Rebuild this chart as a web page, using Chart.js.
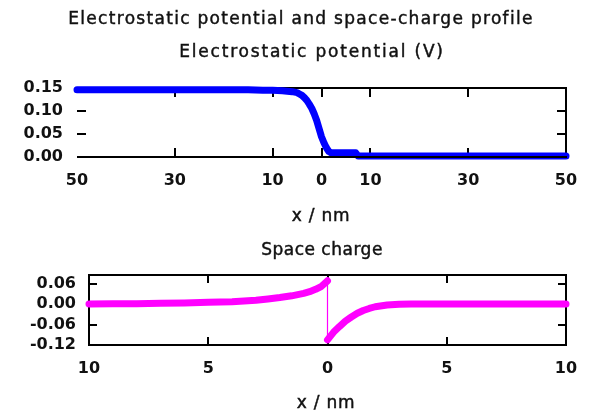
<!DOCTYPE html>
<html>
<head>
<meta charset="utf-8">
<script src="https://cdn.jsdelivr.net/npm/chart.js@4/dist/chart.umd.min.js"></script>
<style>
  html, body { margin: 0; padding: 0; background: #fff; }
  #wrap { position: relative; width: 595px; height: 413px; overflow: hidden;
          font-family: "DejaVu Sans", sans-serif; color: #000; }
  #wrap canvas { position: absolute; left: 0; }
  .lbl { position: absolute; white-space: nowrap; transform: translate(-50%, -50%);
         font-size: 17px; line-height: 1; font-weight: normal; color: #111;
         -webkit-text-stroke: 0.45px #111; }
</style>
</head>
<body>
<div id="wrap">
  <canvas id="potChart" width="595" height="230" style="top:0"></canvas>
  <canvas id="chgChart" width="595" height="183" style="top:230px"></canvas>
  <div class="lbl" style="left:301px; top:18px; letter-spacing:1.3px">Electrostatic potential and space-charge profile</div>
  <div class="lbl" style="left:312px; top:51px; letter-spacing:1.8px">Electrostatic potential (V)</div>
  <div class="lbl" style="left:321px; top:215px; letter-spacing:0.8px">x / nm</div>
  <div class="lbl" style="left:322px; top:249px; letter-spacing:0.5px">Space charge</div>
  <div class="lbl" style="left:326px; top:402px; letter-spacing:0.8px">x / nm</div>
</div>
<script>
// Electrostatic potential (V) across the junction, x in nm
const potX = [-50, -45, -40, -35, -30, -25, -20, -15, -12, -10, -8, -7, -6, -5, -4.5, -4,
              -3.5, -3, -2.5, -2, -1.5, -1, -0.5, 0, 0.5, 1, 1.5, 2, 3, 4, 5, 6, 7,
              7.5, 10, 15, 20, 25, 30, 35, 40, 45, 50];
const potV = [0.146, 0.146, 0.146, 0.146, 0.146, 0.146, 0.146, 0.146, 0.145, 0.145, 0.144,
              0.143, 0.142, 0.140, 0.137, 0.134, 0.129, 0.123, 0.115, 0.106, 0.094, 0.080,
              0.062, 0.044, 0.031, 0.020, 0.012, 0.009, 0.009, 0.009, 0.009, 0.009, 0.009,
              0.002, 0.002, 0.002, 0.002, 0.002, 0.002, 0.002, 0.002, 0.002, 0.002];

// Space charge on each side of the interface at x = 0
const chgLeftX = [-10, -9, -8, -7, -6, -5, -4, -3.5, -3, -2.5, -2, -1.5, -1, -0.75, -0.5, -0.25, 0];
const chgLeftV = [0.000, 0.001, 0.001, 0.002, 0.003, 0.005, 0.007, 0.009, 0.011, 0.015, 0.019,
                  0.024, 0.031, 0.036, 0.043, 0.052, 0.068];
const chgRightX = [0, 0.25, 0.5, 0.75, 1, 1.25, 1.5, 1.75, 2, 2.5, 3, 3.5, 4, 5, 6, 7, 8, 9, 10];
const chgRightV = [-0.105, -0.083, -0.066, -0.050, -0.038, -0.027, -0.019, -0.013, -0.008,
                   -0.003, -0.001, 0.000, 0.000, 0.000, 0.000, 0.000, 0.000, 0.000, 0.000];

// Tick positions
const potTicksX = [-50, -30, -10, 0, 10, 30, 50];
const potTicksY = [0, 0.05, 0.10, 0.15];
const chgTicksX = [-10, -5, 0, 5, 10];
const chgTicksY = [-0.12, -0.06, 0, 0.06];

const BLUE = '#0000ff';
const PINK = '#ff00ff';
const tickFont = { family: '"DejaVu Sans", sans-serif', size: 16, weight: 'bold' };

const toPts = (xs, ys) => xs.map((x, i) => ({ x: x, y: ys[i] }));

// Frame with inward-pointing tick marks on all four sides.
function framePlugin(cfg) {
  function drawTicks(chart) {
    const { ctx, chartArea: a, scales } = chart;
    const xs = scales.x, ys = scales.y;
    ctx.save();
    ctx.strokeStyle = '#000';
    ctx.lineWidth = 2;
    ctx.beginPath();
    xs.ticks.forEach(t => {
      const px = Math.round(xs.getPixelForValue(t.value));
      if (px <= a.left + 1 || px >= a.right - 1) return;
      ctx.moveTo(px, a.bottom); ctx.lineTo(px, a.bottom - cfg.tick);
      ctx.moveTo(px, a.top); ctx.lineTo(px, a.top + cfg.tick);
    });
    ys.ticks.forEach(t => {
      const py = Math.round(ys.getPixelForValue(t.value));
      if (py <= a.top + 1 || py >= a.bottom - 1) return;
      ctx.moveTo(a.left, py); ctx.lineTo(a.left + cfg.tick, py);
      ctx.moveTo(a.right, py); ctx.lineTo(a.right - cfg.tick, py);
    });
    ctx.stroke();
    ctx.restore();
  }
  function line(ctx, x1, y1, x2, y2) {
    ctx.save();
    ctx.strokeStyle = '#000';
    ctx.lineWidth = 2;
    ctx.beginPath(); ctx.moveTo(x1, y1); ctx.lineTo(x2, y2); ctx.stroke();
    ctx.restore();
  }
  return {
    id: 'frame',
    beforeDatasetsDraw(chart) {
      const { ctx, chartArea: a } = chart;
      drawTicks(chart);
      line(ctx, a.left, a.top, a.right + 1, a.top);
      line(ctx, a.right, a.top, a.right, a.bottom);
      if (cfg.leftBorder) line(ctx, a.left, a.top - 1, a.left, a.bottom + 1);
      if (!cfg.axisOnTop) line(ctx, a.left, a.bottom, a.right + 1, a.bottom);
    },
    afterDatasetsDraw(chart) {
      const { ctx, chartArea: a } = chart;
      if (cfg.axisOnTop) line(ctx, a.left, a.bottom, a.right + 1, a.bottom);
    }
  };
}

function scaleOpts(min, max, tickVals, fmt, pad, fitProp, fitSize) {
  return {
    type: 'linear',
    min: min, max: max,
    grid: { display: false, drawTicks: false },
    border: { display: false },
    afterBuildTicks: s => { s.ticks = tickVals.map(v => ({ value: v })); },
    afterFit: s => { s[fitProp] = fitSize; },
    ticks: { color: '#111', font: tickFont, padding: pad, autoSkip: false,
             maxRotation: 0, callback: fmt }
  };
}

const absInt = v => String(Math.abs(v));
const fix2 = v => Number(v).toFixed(2);

// Electrostatic potential panel
new Chart(document.getElementById('potChart'), {
  type: 'line',
  data: {
    datasets: [{
      data: toPts(potX, potV),
      borderColor: BLUE,
      borderWidth: 7,
      borderCapStyle: 'round',
      borderJoinStyle: 'round',
      pointRadius: 0,
      tension: 0,
      clip: false
    }]
  },
  options: {
    responsive: false,
    animation: false,
    events: [],
    layout: { padding: { left: 0, right: 29, top: 88, bottom: 33 } },
    plugins: { legend: { display: false }, tooltip: { enabled: false }, title: { display: false } },
    scales: {
      x: scaleOpts(-50, 50, potTicksX, absInt, 14, 'height', 40),
      y: scaleOpts(0, 0.15, potTicksY, fix2, 14, 'width', 77)
    }
  },
  plugins: [framePlugin({ tick: 9, leftBorder: false, axisOnTop: true })]
});

// Space charge panel
new Chart(document.getElementById('chgChart'), {
  type: 'line',
  data: {
    datasets: [{
      data: toPts(chgLeftX, chgLeftV),
      borderColor: PINK,
      borderWidth: 7,
      borderCapStyle: 'round',
      borderJoinStyle: 'round',
      pointRadius: 0,
      tension: 0,
      clip: false
    }, {
      data: [{ x: chgLeftX[chgLeftX.length - 1], y: chgLeftV[chgLeftV.length - 1] },
             { x: chgRightX[0], y: chgRightV[0] }],
      borderColor: PINK,
      borderWidth: 1.2,
      pointRadius: 0,
      tension: 0,
      clip: false
    }, {
      data: toPts(chgRightX, chgRightV),
      borderColor: PINK,
      borderWidth: 7,
      borderCapStyle: 'round',
      borderJoinStyle: 'round',
      pointRadius: 0,
      tension: 0,
      clip: false
    }]
  },
  options: {
    responsive: false,
    animation: false,
    events: [],
    layout: { padding: { left: 0, right: 29, top: 45, bottom: 28 } },
    plugins: { legend: { display: false }, tooltip: { enabled: false }, title: { display: false } },
    scales: {
      x: scaleOpts(-10, 10, chgTicksX, absInt, 14, 'height', 40),
      y: scaleOpts(-0.12, 0.085, chgTicksY, fix2, 13, 'width', 89)
    }
  },
  plugins: [framePlugin({ tick: 8, leftBorder: true, axisOnTop: false })]
});
</script>
</body>
</html>
